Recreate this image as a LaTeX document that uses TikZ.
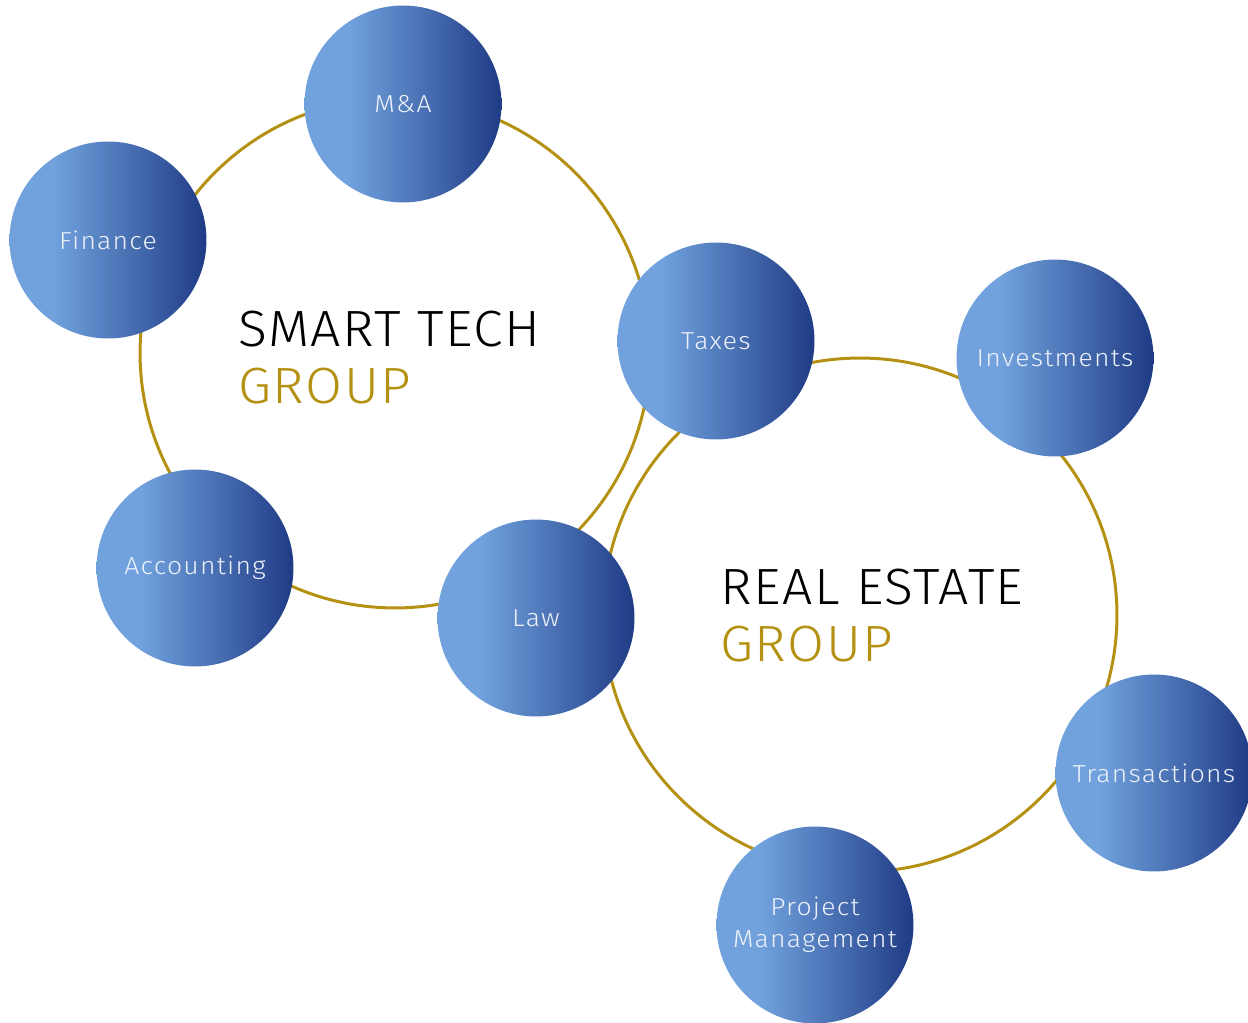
\documentclass[tikz,border=0pt]{standalone}
\usepackage{fontspec}
\setmainfont{Fira Sans Light}
\newfontfamily\orbfont{Fira Sans Light}[FakeStretch=1.08, LetterSpace=5]
\newfontfamily\titlefont{Fira Sans Light}[FakeStretch=1.05, LetterSpace=3]
\usepackage{tikz}
\usetikzlibrary{positioning, calc}

\definecolor{orblight}{RGB}{113,162,222}
\definecolor{orbdark}{RGB}{31,59,133}
\definecolor{ringgold}{RGB}{180,145,18}
\definecolor{orbtext}{RGB}{236,241,250}
\pgfdeclarehorizontalshading{orbshade}{100bp}{color(0bp)=(orblight); color(25bp)=(orblight); color(36bp)=(orblight); color(75bp)=(orbdark); color(100bp)=(orbdark)}

\tikzset{
  ring/.style={circle, draw=ringgold, line width=1.7pt, inner sep=0pt, minimum size=#1},
  orb/.style={circle, shading=orbshade, inner sep=0pt, minimum size=3.94cm,
    text=orbtext, font=\orbfont\fontsize{14}{18}\selectfont, align=center},
  grouptitle/.style={anchor=base west, inner sep=0pt, font=\titlefont\fontsize{29}{32}\selectfont},
}

\begin{document}
\begin{tikzpicture}[x=0.02cm, y=-0.02cm]
  \useasboundingbox (0,0) rectangle (1248,1023);
  % the two group rings
  \node [ring=10.2cm] (st) at (395,353) {};
  \node [ring=10.28cm] (re) at (860,615) {};
  % smart tech group
  \node [grouptitle] (sttitle) at (238,347) {SMART TECH};
  \node [grouptitle, text=ringgold] (stgroup) at (238,404) {GROUP};
  % real estate group
  \node [grouptitle] (retitle) at (720,605) {REAL ESTATE};
  \node [grouptitle, text=ringgold] (regroup) at (720,662) {GROUP};
  % service orbs
  \node [orb] (ma) at (403,104) {M\&A};
  \node [orb] (finance) at (108,240) {Finance};
  \node [orb] (accounting) at (195,568) {Accounting};
  \node [orb] (taxes) at (716,341) {Taxes};
  \node [orb] (law) at (536,618) {Law};
  \node [orb] (invest) at (1055,358) {Investments};
  \node [orb] (trans) at (1154,773) {Transactions};
  \node [orb] (pm) at (815,925) {Project\\Management};
\end{tikzpicture}
\end{document}
